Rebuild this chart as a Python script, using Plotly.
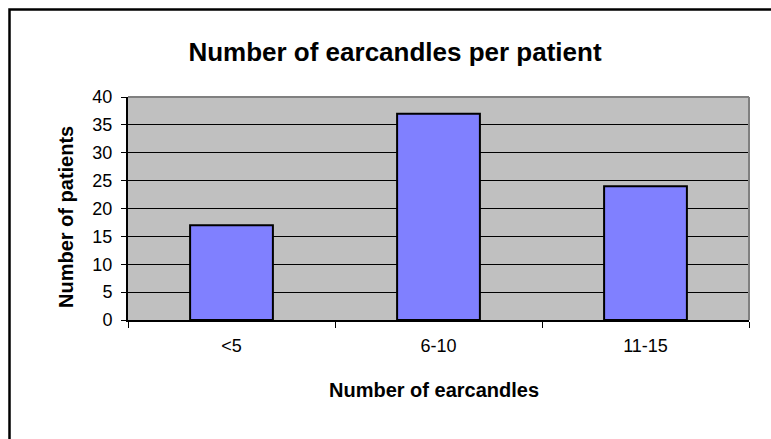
import plotly.graph_objects as go

categories = ["<5", "6-10", "11-15"]
patients = [17, 37, 24]
y_ticks = [0, 5, 10, 15, 20, 25, 30, 35, 40]

W, H = 771, 439
L, R, T, B = 128, 749, 97, 320  # plot area in pixels

def px_x(x):
    return (x - L) / (R - L)

def px_y(y):
    return (B - y) / (B - T)

font = "Arial, Liberation Sans, sans-serif"

fig = go.Figure()
fig.add_trace(go.Bar(
    x=categories, y=patients,
    marker=dict(color="#8080FF", line=dict(color="black", width=2)),
))

fig.update_layout(
    width=W, height=H,
    margin=dict(l=L, r=W - R, t=T, b=H - B, pad=0),
    paper_bgcolor="white", plot_bgcolor="#C0C0C0",
    showlegend=False, bargap=0.6,
    font=dict(family=font, size=18, color="black"),
    title=dict(text="<b>Number of earcandles per patient</b>",
               x=395 / W, xref="container", xanchor="center",
               y=1 - 52 / H, yref="container", yanchor="middle",
               font=dict(size=26, family=font, color="black")),
    xaxis=dict(showgrid=False, tickson="boundaries", ticks="outside",
               ticklen=6, tickcolor="black", tickwidth=1,
               showline=True, linecolor="black", linewidth=2,
               ticklabelstandoff=8, range=[-0.5, 2.5]),
    yaxis=dict(range=[0, 40], tickvals=y_ticks, showgrid=True,
               gridcolor="black", gridwidth=1, ticks="outside",
               ticklen=5, tickcolor="black", showline=True,
               linecolor="black", linewidth=2, zeroline=False,
               ticklabelstandoff=5),
    shapes=[
        # gray plot-area frame top/right
        dict(type="line", xref="paper", yref="paper", x0=0, x1=1, y0=1, y1=1,
             line=dict(color="#808080", width=2)),
        dict(type="line", xref="paper", yref="paper", x0=1, x1=1, y0=0, y1=1,
             line=dict(color="#808080", width=2)),
        # outer chart border
        dict(type="rect", xref="paper", yref="paper",
             x0=px_x(9.5), x1=px_x(W + 10), y0=px_y(H + 10), y1=px_y(9.5),
             line=dict(color="black", width=2.5), layer="above"),
    ],
    annotations=[
        dict(text="<b>Number of patients</b>", xref="paper", yref="paper",
             x=px_x(66), y=px_y(217), textangle=-90, showarrow=False,
             xanchor="center", yanchor="middle", font=dict(size=20)),
        dict(text="<b>Number of earcandles</b>", xref="paper", yref="paper",
             x=px_x(434), y=px_y(390), showarrow=False,
             xanchor="center", yanchor="middle", font=dict(size=20)),
    ],
)

fig.write_html("out.html", config={"displayModeBar": False},
               post_script="document.body.style.margin='0';")
